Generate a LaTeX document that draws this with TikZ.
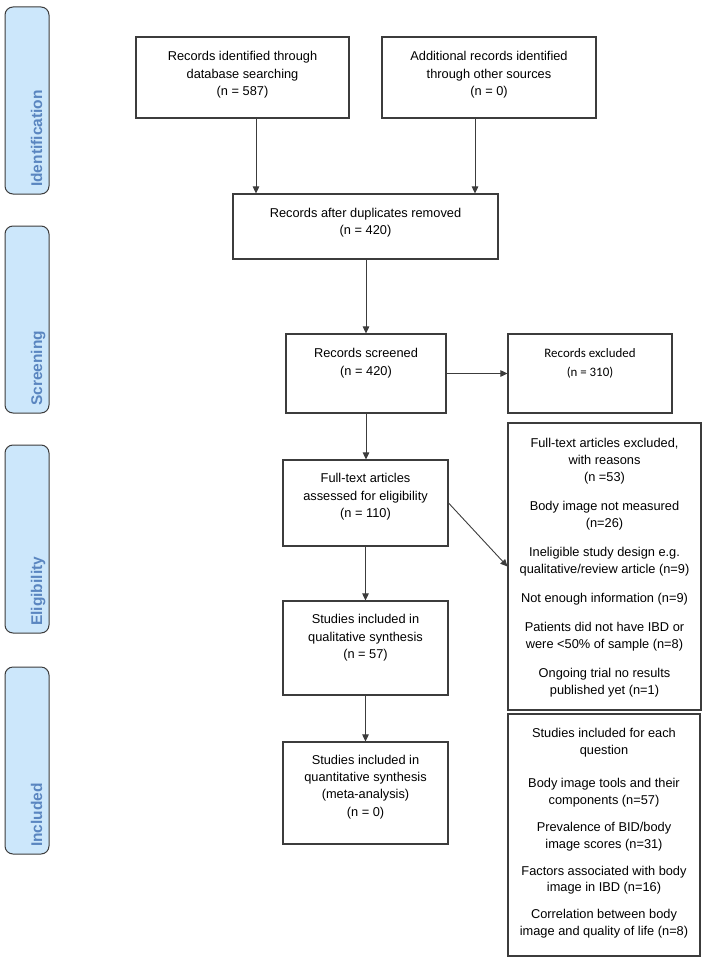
\documentclass[tikz,border=0pt]{standalone}
\usepackage{fontspec}
\setmainfont{Liberation Sans}
\newfontfamily\calib{Carlito}
\usetikzlibrary{arrows.meta}
\definecolor{edge}{HTML}{3C3C3C}
\definecolor{sidefill}{HTML}{CCE7FB}
\definecolor{sidetext}{HTML}{5A86C0}
\newcommand{\tl}[2]{\parbox[t]{#1pt}{\centering #2}}
\begin{document}
\begin{tikzpicture}[x=1pt,y=-1pt,
 box/.style={draw=edge, line width=1.1pt, inner sep=0pt, rectangle},
 side/.style={draw=edge, line width=1pt, fill=sidefill, rounded corners=8pt, minimum width=44pt, inner sep=0pt},
 sidelbl/.style={rotate=90, anchor=base west, inner sep=0pt, text=sidetext, font=\fontsize{15.5}{18}\selectfont\bfseries},
 txt/.style={anchor=base, inner sep=0pt, font=\fontsize{12.8}{17.8}\selectfont, text=black},
 ctxt/.style={anchor=base, inner sep=0pt, font=\calib\fontsize{12.9}{19}\selectfont, text=black},
 ltxt/.style={anchor=base, inner sep=0pt, font=\fontsize{12.8}{17}\selectfont, text=black},
 arr/.style={draw=edge, line width=0.9pt, -{Triangle[length=7pt,width=6.5pt]}}]
\useasboundingbox (0,0) rectangle (703,960);

% side bars
\node[side, minimum height=187pt] (S1) at (27,100.5) {};
\node[side, minimum height=187pt] (S2) at (27,319.5) {};
\node[side, minimum height=188pt] (S3) at (27,539) {};
\node[side, minimum height=187pt] (S4) at (27,760.5) {};
\node[sidelbl] (L1) at (42,187) {Identification};
\node[sidelbl] (L2) at (42,406) {Screening};
\node[sidelbl] (L3) at (42,626) {Eligibility};
\node[sidelbl] (L4) at (42,847) {Included};

% boxes
\node[box, minimum width=213pt, minimum height=81pt] (A) at (242.5,77.5) {};
\node[box, minimum width=214pt, minimum height=81pt] (B) at (489,77.5) {};
\node[box, minimum width=265pt, minimum height=65pt] (C) at (365.5,226.5) {};
\node[box, minimum width=160pt, minimum height=79pt] (D) at (366,373.5) {};
\node[box, minimum width=164pt, minimum height=79pt] (E) at (590,373.5) {};
\node[box, minimum width=165pt, minimum height=86pt] (F) at (365.5,503) {};
\node[box, minimum width=193pt, minimum height=287pt] (G) at (604.5,566.5) {};
\node[box, minimum width=165pt, minimum height=94pt] (H) at (365.5,648) {};
\node[box, minimum width=165pt, minimum height=102pt] (I) at (365.5,793) {};
\node[box, minimum width=192pt, minimum height=242pt] (J) at (604,835) {};

% texts
\node[txt] (tA) at (242.5,60.3) {\tl{205}{Records identified through\\database searching\\(n = 587)}};
\node[txt] (tB) at (489,60.3) {\tl{205}{Additional records identified\\through other sources\\(n = 0)}};
\node[txt] (tC) at (365.5,217) {\tl{255}{Records after duplicates removed\\(n = 420)}};
\node[txt] (tD) at (366,357.3) {\tl{155}{Records screened\\(n = 420)}};
\node[ctxt] (tE) at (590,357.3) {\tl{160}{Records excluded\\(n = 310)}};
\node[txt] (tF) at (365.5,482.3) {\tl{160}{Full-text articles\\assessed for eligibility\\(n = 110)}};
\node[txt] (tH) at (365.5,623.3) {\tl{160}{Studies included in\\qualitative synthesis\\(n = 57)}};
\node[txt, font=\fontsize{12.8}{17.3}\selectfont] (tI) at (365.5,764.3) {\tl{160}{Studies included in\\quantitative synthesis\\(meta-analysis)\\(n = 0)}};
\node[ltxt] (tG) at (604.5,447.5) {\tl{190}{Full-text articles excluded,\\with reasons\\(n =53)\\[12pt]Body image not measured\\(n=26)\\[12pt]Ineligible study design e.g.\\qualitative/review article (n=9)\\[12pt]Not enough information (n=9)\\[12pt]Patients did not have IBD or\\were <50\% of sample (n=8)\\[12pt]Ongoing trial no results\\published yet (n=1)}};
\node[ltxt, font=\fontsize{12.8}{16.6}\selectfont] (tJ) at (604,737.5) {\tl{190}{Studies included for each\\question\\[17pt]Body image tools and their\\components (n=57)\\[10.5pt]Prevalence of BID/body\\image scores (n=31)\\[10.5pt]Factors associated with body\\image in IBD (n=16)\\[10.5pt]Correlation between body\\image and quality of life (n=8)}};

% arrows
\draw[arr] ([xshift=13.5pt]A.south) -- ([xshift=13.5pt]A.south |- C.north);
\draw[arr] ([xshift=-14pt]B.south) -- ([xshift=-14pt]B.south |- C.north);
\draw[arr] (C.south -| D.north) -- (D.north);
\draw[arr] (D.east) -- (D.east -| E.west);
\draw[arr] (D.south) -- (D.south |- F.north);
\draw[arr] (F.east) -- (G.west);
\draw[arr] (F.south) -- (H.north);
\draw[arr] (H.south) -- (I.north);
\end{tikzpicture}
\end{document}
